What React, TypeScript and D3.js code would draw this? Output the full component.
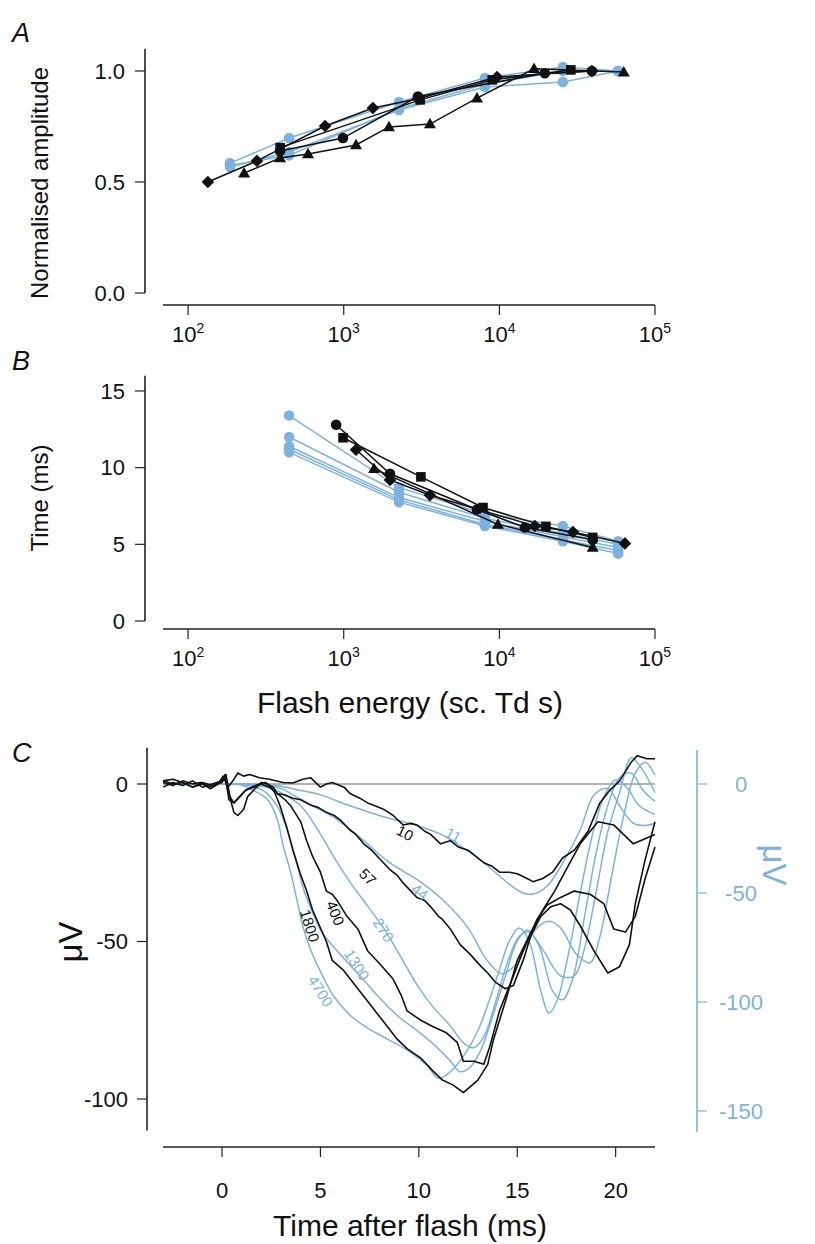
import React from 'react';
import * as d3 from 'd3';

const BLUE = '#7db1de';
const FONT = '"Liberation Sans", Arial, Helvetica, sans-serif';

// ---------- Panel A: normalised amplitude vs flash energy ----------
const ampDiamondE = [134, 277, 759, 1540, 3000, 9660, 39300];
const ampDiamondV = [0.5, 0.595, 0.752, 0.833, 0.875, 0.973, 1.0];
const ampTriangleE = [229, 390, 590, 1200, 1953, 3580, 7180, 16700, 63000];
const ampTriangleV = [0.54, 0.608, 0.626, 0.667, 0.748, 0.761, 0.878, 1.01, 0.995];
const ampCircleE = [390, 989, 3000, 19600, 39300];
const ampCircleV = [0.64, 0.698, 0.885, 0.99, 1.0];
const ampSquareE = [390, 3100, 9000, 28800];
const ampSquareV = [0.655, 0.87, 0.96, 1.005];
const ampBlueE = [186, 446, 2266, 8070, 25600, 57800];
const ampBlue1 = [0.585, 0.698, 0.86, 0.968, 1.018, 1.0];
const ampBlue2 = [0.568, 0.635, 0.824, 0.928, 0.95, 1.0];
const ampBlue3 = [0.575, 0.62, 0.83, 0.94, 1.0, 1.0];
const ampTicks = [0, 0.5, 1.0];

// ---------- Panel B: time to trough vs flash energy ----------
const timeCircleE = [894, 1983, 7180, 14600, 39800];
const timeCircleV = [12.8, 9.6, 7.27, 6.1, 5.3];
const timeSquareE = [990, 3133, 7850, 19900, 39800];
const timeSquareV = [11.95, 9.4, 7.4, 6.17, 5.45];
const timeDiamondE = [1200, 1983, 3580, 16900, 29700, 64100];
const timeDiamondV = [11.17, 9.2, 8.2, 6.2, 5.8, 5.06];
const timeTriangleE = [1566, 9790, 39800];
const timeTriangleV = [9.94, 6.3, 4.8];
const timeBlueE = [446, 2266, 8070, 25600, 58000];
const timeBlue1 = [13.4, 8.7, 7.0, 6.2, 5.2];
const timeBlue2 = [12.0, 8.4, 6.7, 5.7, 5.0];
const timeBlue3 = [11.4, 8.05, 6.5, 5.5, 4.8];
const timeBlue4 = [11.2, 7.9, 6.3, 5.3, 4.6];
const timeBlue5 = [11.0, 7.75, 6.2, 5.2, 4.4];
const timeTicks = [0, 5, 10, 15];

const energyTicks = [1e2, 1e3, 1e4, 1e5];

// ---------- Panel C: recorded (black, left axis) and model (blue, right axis) responses ----------
const rec10: [number, number][] = [[-3,0.5],[-2.5,-0.5],[-2,1],[-1.5,0],[-1.1,0.5],[-0.6,-1.5],[-0.2,0],[0.05,2.5],[0.3,-1],[0.55,1],[0.8,3.5],[1.1,2.5],[1.4,3],[1.9,2],[2.4,1.5],[3.1,0.5],[3.6,0.3],[4.1,1.5],[4.5,2],[5.0,-1],[5.3,0],[5.6,0.5],[6.2,-1],[6.5,-3],[7.0,-4.5],[7.4,-6],[7.8,-7],[8.2,-8],[8.7,-10],[9.2,-13],[9.6,-12.5],[9.9,-13],[10.3,-15],[10.6,-16],[11.1,-19],[11.6,-18],[12.0,-20],[12.5,-21],[12.9,-23],[13.3,-25],[13.7,-26],[14.1,-28],[14.6,-28],[15.0,-28.5],[15.5,-30],[15.8,-31],[16.3,-30],[16.8,-28],[17.3,-23.5],[17.9,-21],[18.6,-15],[19.2,-6],[19.7,-2],[20.2,1],[20.8,7],[21.1,9],[21.6,8],[22,8]];
const rec57: [number, number][] = [[-3,-1],[-2.5,0.5],[-2,-0.5],[-1.5,1],[-1,-1],[-0.5,0],[0,1],[0.2,3],[0.4,-4],[0.6,-6],[0.9,-4],[1.2,-2],[1.6,-1],[2.0,0],[2.4,-1],[2.8,-3],[3.2,-3.5],[3.6,-4.5],[4.0,-5],[4.5,-6.7],[4.9,-7.5],[5.3,-9],[5.7,-10],[6.0,-11.4],[6.5,-14.6],[6.8,-16],[7.2,-19],[7.6,-21],[7.9,-23],[8.2,-25],[8.5,-27],[8.9,-29],[9.2,-31.4],[9.6,-34],[9.9,-36],[10.3,-37],[10.6,-39],[11.0,-42],[11.2,-43],[11.6,-46],[12.1,-51],[12.6,-54],[13.1,-57.5],[13.5,-60],[13.9,-63],[14.4,-65],[14.8,-64],[15.3,-56],[15.7,-48],[16.2,-42],[16.7,-39],[17.2,-38],[17.7,-40],[18.2,-45],[18.9,-53],[19.6,-60],[20.2,-58],[20.7,-51],[21.0,-38],[21.5,-24],[22,-12]];
const rec400: [number, number][] = [[-3,1],[-2.5,0],[-2,0.5],[-1.5,-1],[-1,0.5],[-0.5,-0.5],[0,0.5],[0.15,2],[0.35,-3],[0.6,-9],[0.8,-10],[1.1,-8],[1.3,-4],[1.6,-2],[2.0,0.5],[2.3,0],[2.6,-1],[2.8,-3],[3.2,-5],[3.5,-7],[4.0,-12],[4.3,-18],[4.6,-23],[5.0,-28],[5.3,-34],[5.6,-35],[5.85,-37],[6.35,-42],[6.9,-46],[7.4,-53],[8.0,-57],[8.7,-62],[9.1,-67],[9.4,-72],[10.1,-75],[10.7,-77],[11.4,-79],[11.95,-82],[12.26,-88],[12.8,-88],[13.3,-89],[13.6,-83.5],[14.1,-72],[14.8,-61],[15.3,-53],[16.0,-43],[16.5,-38.5],[17.2,-36],[17.9,-34],[18.7,-35],[19.4,-38],[19.9,-46],[20.5,-47],[21.0,-42],[21.5,-30],[22,-20]];
const rec1800: [number, number][] = [[-3,1],[-2.5,1.5],[-2,0.5],[-1.5,-1],[-1,0],[-0.5,-1],[0,1],[0.15,3],[0.35,-5],[0.6,-6],[0.9,-4],[1.2,-2],[1.5,-1],[1.9,0],[2.2,0.5],[2.5,-1],[2.7,-3],[2.95,-7],[3.3,-14],[3.6,-21],[3.95,-28],[4.3,-34],[4.6,-40],[4.95,-45],[5.3,-50],[5.6,-56],[6.15,-59],[6.9,-65],[7.4,-69],[7.9,-73],[8.4,-77],[8.9,-81],[9.4,-84],[10.1,-87],[10.7,-91],[11.2,-94],[11.75,-95.6],[12.26,-98],[13.0,-94],[13.5,-89],[13.8,-81],[14.4,-69],[15.0,-56],[15.7,-47],[16.3,-40],[16.9,-34],[17.5,-27],[18.2,-19],[19.1,-12],[19.9,-13],[20.9,-19],[22,-16]];

const model11: [number, number][] = [[-3,0],[0,0],[2.5,-0.5],[3.0,-1],[4.0,-3],[5.0,-5],[6.5,-10],[8.2,-15],[9.9,-19],[11.1,-23],[12.2,-29],[13.3,-36],[14.6,-46],[15.3,-50],[15.8,-50.5],[16.5,-47],[17.2,-38],[18.2,-21],[18.9,-5],[19.6,-2],[20.2,-10],[20.9,-18],[21.5,-19],[22,-18]];
const model44: [number, number][] = [[-3,0],[0,0],[2.0,-0.5],[3.0,-2],[3.6,-5],[4.6,-10],[5.8,-16],[7.2,-26],[8.5,-36],[10.1,-45],[11.2,-53],[12.5,-66],[13.4,-80],[14.2,-87],[14.8,-84],[15.4,-75],[16.0,-66],[16.6,-63],[17.2,-66],[18.0,-78],[18.7,-82],[19.2,-70],[19.8,-42],[20.4,-15],[21.0,5],[21.5,10],[22,4]];
const model270: [number, number][] = [[-3,0],[0,0],[1.5,-0.5],[2.5,-2],[3.2,-5],[4.0,-10],[4.8,-20],[5.65,-33],[6.5,-45],[7.4,-56],[8.2,-66],[9.0,-78],[9.9,-92],[10.7,-102],[11.6,-111],[12.3,-119],[12.8,-121],[13.3,-116],[13.9,-100],[14.5,-82],[15.1,-70],[15.6,-68],[16.3,-76],[17.2,-88],[17.9,-88],[18.4,-76],[19.0,-50],[19.6,-22],[20.2,-4],[20.8,12],[21.4,6],[22,-4]];
const model1300: [number, number][] = [[-3,0],[0,0],[1.2,-0.5],[2.1,-3],[2.8,-10],[3.3,-21],[3.8,-36],[4.1,-47],[4.6,-59],[5.0,-67],[5.7,-75],[6.4,-82],[7.4,-92],[8.2,-100],[9.0,-107],[9.9,-113],[10.7,-119],[11.6,-127],[12.1,-132],[12.6,-130],[13.1,-123],[13.7,-108],[14.4,-88],[15.0,-72],[15.5,-67],[16.1,-74],[16.8,-95],[17.3,-99],[17.8,-90],[18.4,-62],[19.0,-32],[19.6,-10],[20.2,3],[20.8,5],[21.4,-3],[22,-8]];
const model4700: [number, number][] = [[-3,0],[0,0],[1.0,-0.5],[1.6,-3],[2.3,-7],[2.8,-16],[3.1,-28],[3.5,-41],[3.8,-53],[4.1,-65],[4.5,-76],[5.0,-86],[5.65,-97],[6.5,-106],[7.4,-112],[8.4,-117],[9.4,-122],[10.4,-129],[11.0,-135],[11.6,-132],[12.4,-123],[13.1,-111],[14.0,-88],[14.6,-72],[15.1,-66],[15.6,-72],[16.2,-95],[16.6,-105],[17.0,-100],[17.6,-78],[18.2,-50],[18.8,-24],[19.4,-6],[20.0,2],[20.6,-2],[21.2,-10],[22,-14]];

// trace annotations: text, time, value, rotation
const recLabels: [string, number, number, number][] = [['10', 9.3, -15.6, 28], ['57', 7.4, -29.5, 45], ['400', 5.75, -41, 68], ['1800', 4.45, -45, 72]];
const modelLabels: [string, number, number, number][] = [['11', 11.75, -23.4, 28], ['44', 10.05, -49.5, 38], ['270', 8.2, -67, 58], ['1300', 6.85, -83, 58], ['4700', 5.0, -95, 58]];

const timeAxisTicks = [0, 5, 10, 15, 20];
const leftTicks = [0, -50, -100];
const rightTicks = [0, -50, -100, -150];

type Shape = 'circle' | 'square' | 'diamond' | 'triangle';

function Marker({ shape, x, y, fill }: { shape: Shape; x: number; y: number; fill: string }) {
  if (shape === 'circle') return <circle cx={x} cy={y} r={5.3} fill={fill} />;
  if (shape === 'square') return <rect x={x - 4.8} y={y - 4.8} width={9.6} height={9.6} fill={fill} />;
  if (shape === 'diamond') return <path d={`M${x},${y - 6.3}L${x + 6.3},${y}L${x},${y + 6.3}L${x - 6.3},${y}Z`} fill={fill} />;
  return <path d={`M${x},${y - 6.2}L${x + 6},${y + 4.3}L${x - 6},${y + 4.3}Z`} fill={fill} />;
}

function EnergyAxis({ x, y }: { x: d3.ScaleLogarithmic<number, number>; y: number }) {
  return (
    <g>
      <line x1={x.range()[0]} x2={x.range()[1]} y1={y} y2={y} stroke="#222" strokeWidth={1.6} />
      {energyTicks.map((t) => (
        <g key={t}>
          <line x1={x(t)} x2={x(t)} y1={y} y2={y + 10} stroke="#222" strokeWidth={1.2} />
          <text x={x(t)} y={y + 37} textAnchor="middle" fontSize={22} fill="#111">
            <tspan>10</tspan>
            <tspan dy={-9} fontSize={14}>{Math.round(Math.log10(t))}</tspan>
          </text>
        </g>
      ))}
    </g>
  );
}

function LinearYAxis({ y, x, ticks, top, bottom, fmt }: { y: d3.ScaleLinear<number, number>; x: number; ticks: number[]; top: number; bottom: number; fmt: (v: number) => string }) {
  return (
    <g>
      <line x1={x} x2={x} y1={y(bottom)} y2={y(top)} stroke="#222" strokeWidth={1.6} />
      {ticks.map((t) => (
        <g key={t}>
          <line x1={x - 10} x2={x} y1={y(t)} y2={y(t)} stroke="#222" strokeWidth={1.2} />
          <text x={x - 20} y={y(t)} dy="0.35em" textAnchor="end" fontSize={22} fill="#111">{fmt(t)}</text>
        </g>
      ))}
    </g>
  );
}

function ScatterSeries({ xs, ys, x, y, shape, color, width }: { xs: number[]; ys: number[]; x: (v: number) => number; y: (v: number) => number; shape: Shape; color: string; width: number }) {
  const pts = xs.map((e, i) => [x(e), y(ys[i])] as [number, number]);
  const line = d3.line<[number, number]>();
  return (
    <g>
      <path d={line(pts) || ''} fill="none" stroke={color} strokeWidth={width} />
      {pts.map((p, i) => <Marker key={i} shape={shape} x={p[0]} y={p[1]} fill={color} />)}
    </g>
  );
}

export default function App() {
  // scales
  const xE = d3.scaleLog().domain([69, 1e5]).range([163, 655]);
  const yAmp = d3.scaleLinear().domain([0, 1]).range([293, 71]);
  const yTime = d3.scaleLinear().domain([0, 15]).range([621, 391]);
  const xT = d3.scaleLinear().domain([-3, 22]).range([163, 655]);
  const yRec = d3.scaleLinear().domain([-100, 0]).range([1099, 784]);
  const yMod = d3.scaleLinear().domain([-100, 0]).range([1002, 784]);

  const recLine = d3.line<[number, number]>().x((d) => xT(d[0])).y((d) => yRec(d[1]));
  const modLine = d3.line<[number, number]>().x((d) => xT(d[0])).y((d) => yMod(d[1])).curve(d3.curveCatmullRom.alpha(0.5));

  const ampBlack: [number[], number[], Shape][] = [
    [ampSquareE, ampSquareV, 'square'],
    [ampCircleE, ampCircleV, 'circle'],
    [ampTriangleE, ampTriangleV, 'triangle'],
    [ampDiamondE, ampDiamondV, 'diamond'],
  ];
  const ampBlue = [ampBlue1, ampBlue2, ampBlue3];
  const timeBlack: [number[], number[], Shape][] = [
    [timeCircleE, timeCircleV, 'circle'],
    [timeSquareE, timeSquareV, 'square'],
    [timeDiamondE, timeDiamondV, 'diamond'],
    [timeTriangleE, timeTriangleV, 'triangle'],
  ];
  const timeBlue = [timeBlue1, timeBlue2, timeBlue3, timeBlue4, timeBlue5];
  const recTraces = [rec10, rec57, rec400, rec1800];
  const modelTraces = [model11, model44, model270, model1300, model4700];

  const xRight = 697;

  return (
    <svg width={815} height={1244} viewBox="0 0 815 1244" style={{ position: 'absolute', left: 0, top: 0, background: '#fff' }} fontFamily={FONT}>
      <rect width={815} height={1244} fill="#fff" />

      {/* ---- A ---- */}
      <text x={12} y={42} fontSize={27} fontStyle="italic" fill="#111">A</text>
      <text transform="translate(48,183) rotate(-90)" textAnchor="middle" fontSize={24} fill="#111">Normalised amplitude</text>
      <LinearYAxis y={yAmp} x={145} ticks={ampTicks} top={1.1} bottom={0} fmt={(v) => v.toFixed(1)} />
      <EnergyAxis x={xE} y={305} />
      {ampBlue.map((vals, i) => (
        <ScatterSeries key={'ab' + i} xs={ampBlueE} ys={vals} x={xE} y={yAmp} shape="circle" color={BLUE} width={1.5} />
      ))}
      {ampBlack.map(([xs, ys, s], i) => (
        <ScatterSeries key={'ak' + i} xs={xs} ys={ys} x={xE} y={yAmp} shape={s} color="#111" width={1.5} />
      ))}

      {/* ---- B ---- */}
      <text x={12} y={370} fontSize={27} fontStyle="italic" fill="#111">B</text>
      <text transform="translate(48,498) rotate(-90)" textAnchor="middle" fontSize={24} fill="#111">Time (ms)</text>
      <LinearYAxis y={yTime} x={145} ticks={timeTicks} top={16} bottom={0} fmt={(v) => String(v)} />
      <EnergyAxis x={xE} y={629} />
      {timeBlue.map((vals, i) => (
        <ScatterSeries key={'tb' + i} xs={timeBlueE} ys={vals} x={xE} y={yTime} shape="circle" color={BLUE} width={1.5} />
      ))}
      {timeBlack.map(([xs, ys, s], i) => (
        <ScatterSeries key={'tk' + i} xs={xs} ys={ys} x={xE} y={yTime} shape={s} color="#111" width={1.5} />
      ))}
      <text x={410} y={713} textAnchor="middle" fontSize={30} fill="#111">Flash energy (sc. Td s)</text>

      {/* ---- C ---- */}
      <text x={12} y={762} fontSize={27} fontStyle="italic" fill="#111">C</text>
      <line x1={xT(-3)} x2={xT(22)} y1={yRec(0)} y2={yRec(0)} stroke="#9a9a9a" strokeWidth={1.3} />
      {modelTraces.map((tr, i) => (
        <path key={'m' + i} d={modLine(tr) || ''} fill="none" stroke={BLUE} strokeWidth={1.5} />
      ))}
      {recTraces.map((tr, i) => (
        <path key={'r' + i} d={recLine(tr) || ''} fill="none" stroke="#111" strokeWidth={1.6} strokeLinejoin="round" />
      ))}
      {recLabels.map(([s, t, v, a]) => (
        <text key={'rl' + s} transform={`translate(${xT(t)},${yRec(v)}) rotate(${a})`} textAnchor="middle" dy="0.35em" fontSize={15} fill="#111">{s}</text>
      ))}
      {modelLabels.map(([s, t, v, a]) => (
        <text key={'ml' + s} transform={`translate(${xT(t)},${yMod(v)}) rotate(${a})`} textAnchor="middle" dy="0.35em" fontSize={15} fill={BLUE}>{s}</text>
      ))}

      {/* left axis */}
      <line x1={147} x2={147} y1={yRec(11.5)} y2={yRec(-110)} stroke="#222" strokeWidth={1.6} />
      {leftTicks.map((t) => (
        <g key={'lt' + t}>
          <line x1={137} x2={147} y1={yRec(t)} y2={yRec(t)} stroke="#222" strokeWidth={1.2} />
          <text x={128} y={yRec(t)} dy="0.35em" textAnchor="end" fontSize={22} fill="#111">{t}</text>
        </g>
      ))}
      <text transform="translate(70,942) rotate(-90)" textAnchor="middle" dy="0.35em" fontSize={33} fill="#111">μV</text>

      {/* right axis */}
      <line x1={xRight} x2={xRight} y1={yMod(15.6)} y2={yMod(-159.6)} stroke={BLUE} strokeWidth={1.6} />
      {rightTicks.map((t) => (
        <g key={'rt' + t}>
          <line x1={xRight} x2={xRight + 10} y1={yMod(t)} y2={yMod(t)} stroke={BLUE} strokeWidth={1.2} />
          <text x={741} y={yMod(t)} dy="0.35em" textAnchor="middle" fontSize={22} fill={BLUE}>{t}</text>
        </g>
      ))}
      <text transform="translate(775,865) rotate(90)" textAnchor="middle" dy="0.35em" fontSize={33} fill={BLUE}>μV</text>

      {/* time axis */}
      <line x1={xT(-3)} x2={xT(22)} y1={1147} y2={1147} stroke="#222" strokeWidth={1.6} />
      {timeAxisTicks.map((t) => (
        <g key={'xt' + t}>
          <line x1={xT(t)} x2={xT(t)} y1={1147} y2={1157} stroke="#222" strokeWidth={1.2} />
          <text x={xT(t)} y={1198} textAnchor="middle" fontSize={22} fill="#111">{t}</text>
        </g>
      ))}
      <text x={410} y={1236} textAnchor="middle" fontSize={30} fill="#111">Time after flash (ms)</text>
    </svg>
  );
}
